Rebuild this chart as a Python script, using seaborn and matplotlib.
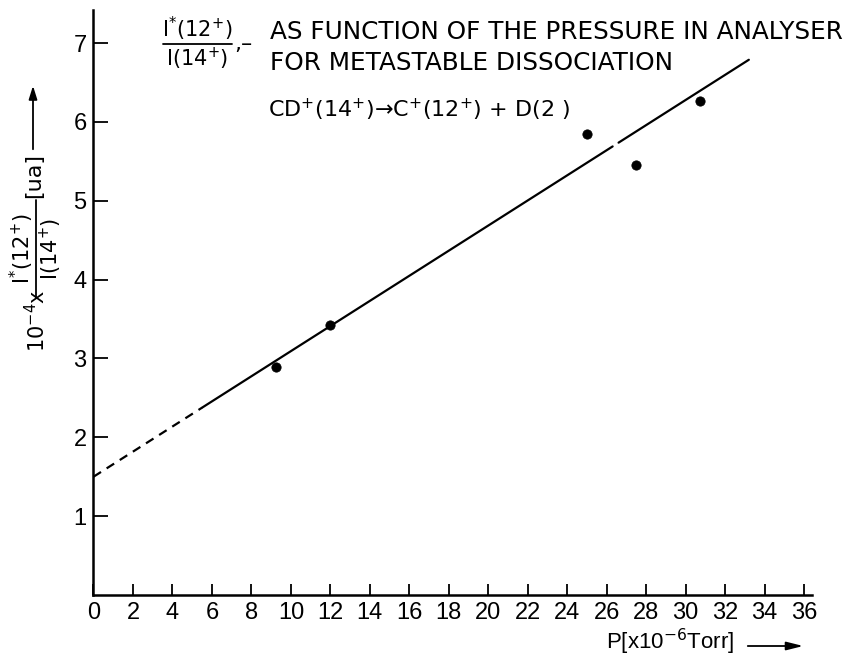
import matplotlib
matplotlib.use("Agg")
import matplotlib.pyplot as plt
from matplotlib.lines import Line2D
from matplotlib.patches import FancyArrowPatch
import seaborn as sns

# measured points
pressure = [9.25, 12.0, 25.0, 27.5, 30.75]
ratio = [2.89, 3.42, 5.85, 5.45, 6.26]

# straight line drawn through them (extrapolated part dashed)
fit_intercept = 1.5
fit_slope = 0.1593
dashed_x = [0.0, 5.5]
solid_x = [[5.5, 26.3], [26.6, 33.2]]

x_ticks = list(range(0, 37, 2))
y_ticks = [1, 2, 3, 4, 5, 6, 7]

W, H = 853, 660


def fx(p):
    return p / W


def fy(p):
    return 1 - p / H


sns.set_theme(style="ticks")
plt.rcParams["font.family"] = ["Liberation Sans", "DejaVu Sans"]
plt.rcParams["mathtext.fontset"] = "dejavusans"
plt.rcParams["text.color"] = "black"

fig = plt.figure(figsize=(W / 100, H / 100), dpi=100)
ax = fig.add_axes([fx(93.5), 65 / H, (812 - 93.5) / W, 585 / H])

sns.lineplot(x=dashed_x, y=[fit_intercept + fit_slope * v for v in dashed_x],
             color="black", linewidth=1.6, linestyle=(0, (4, 3)), ax=ax)
for xs in solid_x:
    sns.lineplot(x=xs, y=[fit_intercept + fit_slope * v for v in xs],
                 color="black", linewidth=1.6, ax=ax)
sns.scatterplot(x=pressure, y=ratio, color="black", s=45, edgecolor="black",
                zorder=3, ax=ax)

ax.set_xlim(0, 36.4)
ax.set_ylim(0, 7.42)
ax.set_xticks(x_ticks)
ax.set_yticks(y_ticks)
ax.tick_params(direction="in", color="black", width=1.3, labelsize=17,
               labelcolor="black", pad=5)
ax.tick_params(axis="x", length=8)
ax.tick_params(axis="y", length=11)
sns.despine(ax=ax)
for side in ["left", "bottom"]:
    ax.spines[side].set_linewidth(1.8)
    ax.spines[side].set_color("black")

# y label, built from rotated pieces, with arrow
ylab = dict(rotation=90, ha="center", va="center", family="DejaVu Sans")
fig.text(fx(37), fy(321), r"10$^{-4}$x", fontsize=15, **ylab)
fig.text(fx(22), fy(249), r"I$^{*}$(12$^{+}$)", fontsize=15, **ylab)
fig.add_artist(Line2D([fx(36), fx(36)], [fy(200), fy(298)],
                      transform=fig.transFigure, color="black", lw=1.3))
fig.text(fx(51), fy(249), r"I(14$^{+}$)", fontsize=15, **ylab)
fig.text(fx(34), fy(175), "[ua]", fontsize=16, **ylab)
fig.add_artist(FancyArrowPatch(
    (fx(33), fy(152)), (fx(33), fy(83)), transform=fig.transFigure,
    arrowstyle="-|>,head_length=8,head_width=2.5", color="black", lw=1.3))

# x label with arrow
fig.text(fx(734), fy(642), r"P[x10$^{-6}$Torr]", ha="right", va="center",
         fontsize=16)
fig.add_artist(FancyArrowPatch(
    (fx(745), fy(646)), (fx(806), fy(646)), transform=fig.transFigure,
    arrowstyle="-|>,head_length=10,head_width=2.5", color="black", lw=1.3))

# title block
fig.text(fx(197), fy(29), r"I$^{*}$(12$^{+}$)", ha="center", va="center",
         fontsize=15, family="DejaVu Sans")
fig.add_artist(Line2D([fx(163), fx(232)], [fy(43.5), fy(43.5)],
                      transform=fig.transFigure, color="black", lw=1.3))
fig.text(fx(197), fy(59), r"I(14$^{+}$)", ha="center", va="center",
         fontsize=15, family="DejaVu Sans")
fig.text(fx(234), fy(44), ",–", ha="left", va="center", fontsize=16,
         family="DejaVu Sans")
fig.text(fx(270), fy(32), "AS FUNCTION OF THE PRESSURE IN ANALYSER",
         ha="left", va="center", fontsize=17.8, family="DejaVu Sans")
fig.text(fx(270), fy(63), "FOR METASTABLE DISSOCIATION",
         ha="left", va="center", fontsize=17.8, family="DejaVu Sans")
fig.text(fx(268), fy(110),
         r"CD$^{+}$(14$^{+}$)→C$^{+}$(12$^{+}$) + D(2 )",
         ha="left", va="center", fontsize=16, family="DejaVu Sans")

fig.savefig("out.png", dpi=100, facecolor="white")
